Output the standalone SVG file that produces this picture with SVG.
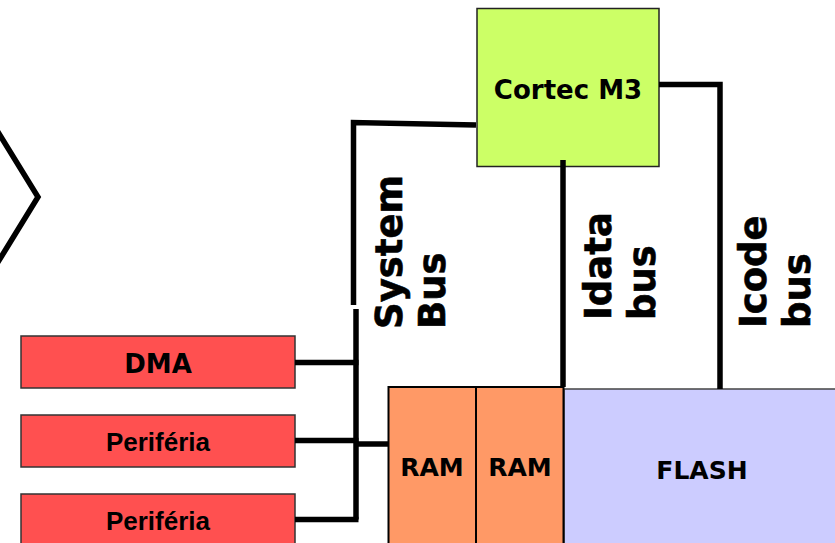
<svg xmlns="http://www.w3.org/2000/svg" width="835" height="543" viewBox="0 0 835 543">
<style>
.v{font-family:"DejaVu Sans","Verdana",sans-serif;font-weight:bold;fill:#000}
.big{stroke:#000;stroke-width:0.6}
.a{font-family:"Liberation Sans","Arial",sans-serif;font-weight:bold;fill:#000}
.w{fill:none;stroke:#000;stroke-width:5.5;stroke-linejoin:miter;stroke-linecap:butt}
.red{fill:#FF5050;stroke:#333;stroke-width:1.5}
.ram{fill:#FF9966;stroke:#000;stroke-width:2}
</style>
<rect width="835" height="543" fill="#fff"/>
<polyline points="-5,127 38,197 -5,267" fill="none" stroke="#000" stroke-width="5.5"/>
<g id="cortex">
<rect x="477" y="8.5" width="182" height="158" fill="#CCFF66" stroke="#222" stroke-width="1.5"/>
<text class="v" font-size="26" x="568" y="99" text-anchor="middle">Cortec M3</text>
</g>
<g id="dma">
<rect class="red" x="21" y="336" width="274" height="52"/>
<text class="v" font-size="26" x="158" y="373" text-anchor="middle">DMA</text>
</g>
<g id="periferia1">
<rect class="red" x="21" y="415" width="274" height="52"/>
<text class="a" font-size="26" x="158" y="451" text-anchor="middle">Periféria</text>
</g>
<g id="periferia2">
<rect class="red" x="21" y="494" width="274" height="52"/>
<text class="a" font-size="26" x="158" y="529.5" text-anchor="middle">Periféria</text>
</g>
<g id="flash">
<rect x="564" y="389" width="280" height="170" fill="#CCCCFF" stroke="#444" stroke-width="1.5"/>
<text class="v" font-size="25" x="702" y="479" text-anchor="middle">FLASH</text>
</g>
<g id="ram1">
<rect class="ram" x="388.5" y="387" width="87.5" height="170"/>
<text class="v" font-size="25" x="432" y="476" text-anchor="middle">RAM</text>
</g>
<g id="ram2">
<rect class="ram" x="476" y="387" width="87.5" height="170"/>
<text class="v" font-size="25" x="520" y="476" text-anchor="middle">RAM</text>
</g>
<g id="connectors">
<polyline class="w" points="476,125 353.5,122.5 353.5,305"/>
<polyline class="w" points="356,309 356,519.5"/>
<line class="w" x1="295" y1="362.5" x2="358.5" y2="362.5"/>
<line class="w" x1="295" y1="440.5" x2="358.5" y2="440.5"/>
<line class="w" x1="295" y1="519.5" x2="358.5" y2="519.5"/>
<line class="w" x1="356" y1="444" x2="388" y2="444"/>
<line class="w" x1="563" y1="160" x2="563" y2="387"/>
<polyline class="w" points="659,84.5 720,84.5 720,389"/>
</g>
<g id="labels">
<text class="v big" font-size="37" transform="translate(402,329) rotate(-90)">System</text>
<text class="v big" font-size="37" transform="translate(445,329) rotate(-90)">Bus</text>
<text class="v big" font-size="37" transform="translate(611,320) rotate(-90)">Idata</text>
<text class="v big" font-size="37" transform="translate(655,320) rotate(-90)">bus</text>
<text class="v big" font-size="37" transform="translate(766,328) rotate(-90)">Icode</text>
<text class="v big" font-size="37" transform="translate(810,328) rotate(-90)">bus</text>
</g>
</svg>
